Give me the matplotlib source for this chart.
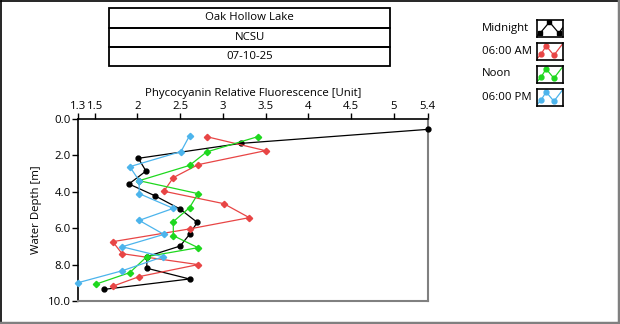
import matplotlib.pyplot as plt
from matplotlib.patches import Rectangle

plt.rcParams['font.family'] = ['Open Sans', 'DejaVu Sans']

# Profiles: fluorescence (x) against water depth (y)
midnight_x = [5.40, 3.21, 2.01, 2.10, 1.90, 2.21, 2.50, 2.70, 2.61, 2.50, 2.11, 2.11, 2.61, 1.61]
midnight_y = [0.57, 1.34, 2.16, 2.86, 3.57, 4.23, 4.95, 5.68, 6.34, 6.98, 7.56, 8.20, 8.79, 9.36]

am_x = [2.81, 3.50, 2.71, 2.42, 2.31, 3.01, 3.31, 2.61, 1.71, 1.82, 2.71, 2.02, 1.71]
am_y = [0.97, 1.74, 2.51, 3.22, 3.97, 4.65, 5.42, 6.04, 6.74, 7.40, 8.00, 8.66, 9.19]

noon_x = [3.41, 2.81, 2.61, 2.02, 2.71, 2.61, 2.42, 2.42, 2.71, 2.11, 1.91, 1.51]
noon_y = [0.97, 1.81, 2.55, 3.39, 4.10, 4.87, 5.64, 6.41, 7.07, 7.56, 8.44, 9.08]

pm_x = [2.61, 2.51, 1.91, 2.02, 2.02, 2.42, 2.02, 2.31, 1.82, 2.30, 1.82, 1.30]
pm_y = [0.92, 1.79, 2.62, 3.39, 4.10, 4.91, 5.57, 6.34, 7.02, 7.57, 8.34, 9.00]

x_ticks = [1.3, 1.5, 2, 2.5, 3, 3.5, 4, 4.5, 5, 5.4]
x_labels = ['1.3', '1.5', '2', '2.5', '3', '3.5', '4', '4.5', '5', '5.4']
y_ticks = [0, 2, 4, 6, 8, 10]

header_lines = ['Oak Hollow Lake', 'NCSU', '07-10-25']
series_names = ['Midnight', '06:00 AM', 'Noon', '06:00 PM']
colors = ['black', '#e84545', '#1ed81e', '#4cb4ec']
markers = ['o', 'D', 'D', 'D']

W, H = 620, 324
FS = 8.2
fig = plt.figure(figsize=(W / 100, H / 100), dpi=100)


def fx(px):
    return px / W


def fy(py):
    return 1 - py / H


# outer frame: dark on top/left, grey on bottom/right
fig.add_artist(plt.Line2D([fx(1), fx(1)], [fy(323), fy(1)], color='black', lw=1.2))
fig.add_artist(plt.Line2D([fx(1), fx(619)], [fy(1), fy(1)], color='black', lw=1.2))
fig.add_artist(plt.Line2D([fx(618.5), fx(618.5)], [fy(1), fy(322.5)], color='#808080', lw=2.5))
fig.add_artist(plt.Line2D([fx(0), fx(619)], [fy(322.5), fy(322.5)], color='#808080', lw=2.5))

# header box with three rows
row_top = [8.5, 28, 47]
row_h = 19
for top, txt in zip(row_top, header_lines):
    fig.add_artist(Rectangle((fx(109), fy(top + row_h)), fx(390) - fx(109), fy(top) - fy(top + row_h),
                             transform=fig.transFigure, fill=False, edgecolor='black', lw=1.3))
    fig.text(fx(249.5), fy(top + row_h / 2), txt, ha='center', va='center', fontsize=FS)

# main plot
ax = fig.add_axes([fx(77.7), fy(301), fx(427.7) - fx(77.7), fy(119) - fy(301)])
series = [(midnight_x, midnight_y), (am_x, am_y), (noon_x, noon_y), (pm_x, pm_y)]
for (xs, ys), c, m in zip(series, colors, markers):
    ax.plot(xs, ys, color=c, lw=0.9, marker=m, ms=3.5 if m == 'o' else 3.2, clip_on=False, zorder=3)

ax.set_xlim(1.3, 5.4)
ax.set_ylim(10, 0)
ax.xaxis.tick_top()
ax.xaxis.set_label_position('top')
ax.set_xticks(x_ticks)
ax.set_xticklabels(x_labels)
ax.set_yticks(y_ticks)
ax.set_yticklabels([f'{v:.1f}' for v in y_ticks])
ax.tick_params(direction='out', length=4, width=1, labelsize=FS, pad=1)
ax.set_xlabel('Phycocyanin Relative Fluorescence [Unit]', fontsize=FS, labelpad=4)
ax.set_ylabel('Water Depth [m]', fontsize=FS, labelpad=4)
for side in ['left', 'top']:
    ax.spines[side].set_color('black')
    ax.spines[side].set_linewidth(1.2)
for side in ['right', 'bottom']:
    ax.spines[side].set_color('#808080')
    ax.spines[side].set_linewidth(1.5)

# legend: name on the left, framed sample glyph on the right
glyph_black = ([0.0, 0.12, 0.48, 0.84, 1.0], [0.05, 0.2, 0.85, 0.2, 0.55])
glyph_color = ([0.0, 0.15, 0.35, 0.65, 1.0], [0.05, 0.3, 0.8, 0.25, 0.95])
legend_top = [19.5, 42.5, 65.5, 88.5]
for top, name, c in zip(legend_top, series_names, colors):
    fig.text(fx(482), fy(top + 8.5), name, ha='left', va='center', fontsize=FS)
    lax = fig.add_axes([fx(537), fy(top + 17), fx(563) - fx(537), fy(top) - fy(top + 17)])
    gx, gy = glyph_black if c == 'black' else glyph_color
    lax.plot(gx, gy, color=c, lw=0.9)
    lax.plot(gx[1:4], gy[1:4], ls='none', marker='s' if c == 'black' else 'o', ms=3.5, color=c)
    lax.set_xlim(0, 1)
    lax.set_ylim(0, 1)
    lax.set_xticks([])
    lax.set_yticks([])
    for s in lax.spines.values():
        s.set_linewidth(1.2)

fig.savefig('out.png', dpi=100)
